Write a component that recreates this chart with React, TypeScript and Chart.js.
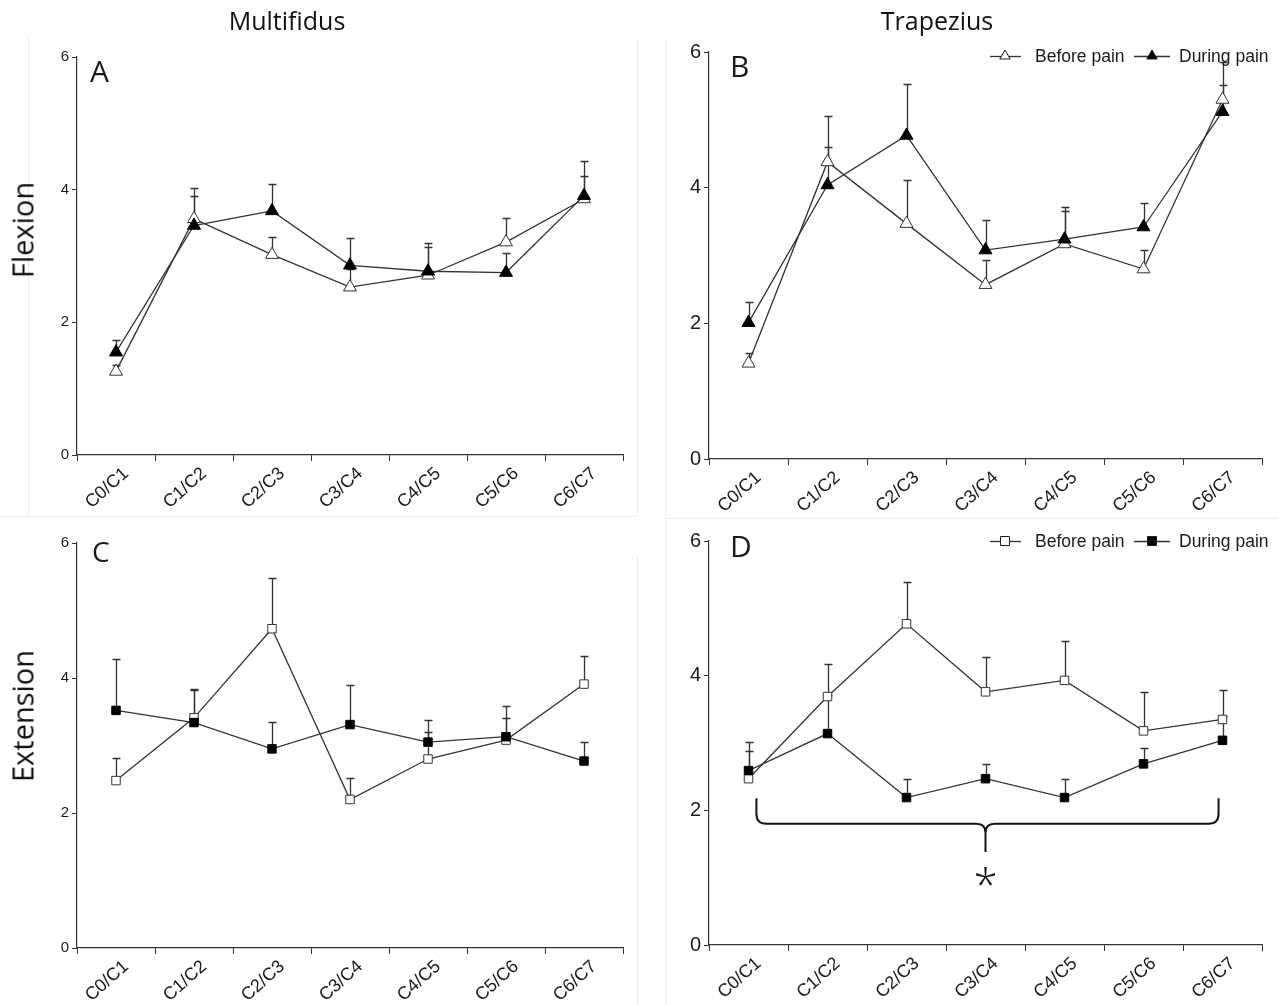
import React, { useEffect, useRef } from 'react';
import { Chart, registerables } from 'chart.js';

Chart.register(...registerables);

// ---------- data ----------
const categories = ['C0/C1', 'C1/C2', 'C2/C3', 'C3/C4', 'C4/C5', 'C5/C6', 'C6/C7'];
const yTickMin = 0;
const yTickMax = 6;
const yTickStep = 2;
const legendLabels = ['Before pain', 'During pain'];
const columnTitles = ['Multifidus', 'Trapezius'];
const rowTitles = ['Flexion', 'Extension'];
const panelLetters = ['A', 'B', 'C', 'D'];

// A: Multifidus, flexion
const multifidusFlexionBefore = [1.26, 3.56, 3.02, 2.53, 2.71, 3.21, 3.86];
const multifidusFlexionBeforeUpper = [1.35, 3.9, 3.28, 2.8, 3.13, 3.58, 4.21];
const multifidusFlexionDuring = [1.55, 3.46, 3.68, 2.86, 2.77, 2.75, 3.91];
const multifidusFlexionDuringUpper = [1.73, 4.02, 4.09, 3.27, 3.2, 3.04, 4.43];

// B: Trapezius, flexion
const trapeziusFlexionBefore = [1.41, 4.38, 3.47, 2.57, 3.17, 2.8, 5.3];
const trapeziusFlexionBeforeUpper = [1.56, 4.6, 4.11, 2.93, 3.66, 3.08, 5.52];
const trapeziusFlexionDuring = [2.01, 4.04, 4.77, 3.08, 3.24, 3.42, 5.12];
const trapeziusFlexionDuringUpper = [2.32, 5.05, 5.53, 3.52, 3.71, 3.77, 5.85];

// C: Multifidus, extension
const multifidusExtensionBefore = [2.48, 3.41, 4.73, 2.2, 2.8, 3.08, 3.91];
const multifidusExtensionBeforeUpper = [2.82, 3.82, 5.48, 2.52, 3.2, 3.41, 4.32];
const multifidusExtensionDuring = [3.52, 3.34, 2.95, 3.31, 3.05, 3.13, 2.77];
const multifidusExtensionDuringUpper = [4.28, 3.84, 3.35, 3.9, 3.38, 3.58, 3.05];

// D: Trapezius, extension
const trapeziusExtensionBefore = [2.47, 3.69, 4.77, 3.76, 3.93, 3.18, 3.35];
const trapeziusExtensionBeforeUpper = [2.88, 4.18, 5.39, 4.27, 4.52, 3.76, 3.79];
const trapeziusExtensionDuring = [2.59, 3.14, 2.19, 2.47, 2.19, 2.69, 3.04];
const trapeziusExtensionDuringUpper = [3.01, 3.72, 2.47, 2.69, 2.47, 2.92, 3.4];

// significance brace in D (category positions and values)
const braceCategoryPositions = [0.1, 3, 5.95]; // start, middle, end
const braceValues = [2.18, 1.8, 1.38]; // end tops, bar, tip
const significanceMark = '*';
const significancePosition = [3, 1.02];

// ---------- layout ----------
const PAGE_W = 1279;
const PAGE_H = 1005;
const Y_W = 40;
const X_H = 70;

interface PanelSpec {
  letter: string;
  letterSize: number;
  letterX: number;
  letterBaseline: number;
  axisLeft: number;
  axisRight: number;
  yTop: number;
  yBottom: number;
  yTickSize: number;
  before: number[];
  beforeUpper: number[];
  during: number[];
  duringUpper: number[];
  marker: 'triangle' | 'rect';
  legendY?: number;
  brace?: boolean;
}

const panels: PanelSpec[] = [
  {
    letter: panelLetters[0], letterSize: 30, letterX: 90, letterBaseline: 82,
    axisLeft: 77, axisRight: 623, yTop: 57, yBottom: 455, yTickSize: 15,
    before: multifidusFlexionBefore, beforeUpper: multifidusFlexionBeforeUpper,
    during: multifidusFlexionDuring, duringUpper: multifidusFlexionDuringUpper,
    marker: 'triangle',
  },
  {
    letter: panelLetters[1], letterSize: 30, letterX: 730, letterBaseline: 77,
    axisLeft: 709, axisRight: 1262, yTop: 52, yBottom: 459, yTickSize: 20,
    before: trapeziusFlexionBefore, beforeUpper: trapeziusFlexionBeforeUpper,
    during: trapeziusFlexionDuring, duringUpper: trapeziusFlexionDuringUpper,
    marker: 'triangle', legendY: 56,
  },
  {
    letter: panelLetters[2], letterSize: 28, letterX: 92, letterBaseline: 562,
    axisLeft: 77, axisRight: 623, yTop: 543, yBottom: 948, yTickSize: 15,
    before: multifidusExtensionBefore, beforeUpper: multifidusExtensionBeforeUpper,
    during: multifidusExtensionDuring, duringUpper: multifidusExtensionDuringUpper,
    marker: 'rect',
  },
  {
    letter: panelLetters[3], letterSize: 30, letterX: 730, letterBaseline: 557,
    axisLeft: 709, axisRight: 1262, yTop: 541, yBottom: 945, yTickSize: 20,
    before: trapeziusExtensionBefore, beforeUpper: trapeziusExtensionBeforeUpper,
    during: trapeziusExtensionDuring, duringUpper: trapeziusExtensionDuringUpper,
    marker: 'rect', legendY: 541, brace: true,
  },
];

const INK = '#1a1a1a';
const LINE = '#333333';

function drawMarker(ctx: CanvasRenderingContext2D, kind: string, x: number, y: number, r: number, fill: string) {
  ctx.beginPath();
  if (kind === 'triangle') {
    const h = r * Math.sqrt(3) / 2;
    ctx.moveTo(x, y - r);
    ctx.lineTo(x + h, y + r / 2);
    ctx.lineTo(x - h, y + r / 2);
    ctx.closePath();
  } else {
    ctx.rect(x - r, y - r, 2 * r, 2 * r);
  }
  ctx.fillStyle = fill;
  ctx.fill();
  ctx.strokeStyle = INK;
  ctx.lineWidth = 1;
  ctx.stroke();
}

const errorBarPlugin = {
  id: 'errorBars',
  beforeDatasetsDraw(chart: any, _args: any, opts: any) {
    const { ctx } = chart;
    const yScale = chart.scales.y;
    const uppers: number[][] = opts.uppers;
    ctx.save();
    ctx.strokeStyle = LINE;
    ctx.lineWidth = 1.3;
    chart.data.datasets.forEach((_ds: any, i: number) => {
      const meta = chart.getDatasetMeta(i);
      meta.data.forEach((pt: any, j: number) => {
        const x = Math.round(pt.x) + 0.5;
        const yTopPx = Math.round(yScale.getPixelForValue(uppers[i][j])) + 0.5;
        ctx.beginPath();
        ctx.moveTo(x, pt.y);
        ctx.lineTo(x, yTopPx);
        ctx.moveTo(x - 4, yTopPx);
        ctx.lineTo(x + 4, yTopPx);
        ctx.stroke();
      });
    });
    ctx.restore();
  },
};

const decorPlugin = {
  id: 'decor',
  afterDraw(chart: any, _args: any, opts: any) {
    const { ctx } = chart;
    const spec: PanelSpec = opts.spec;
    ctx.save();
    // panel letter
    ctx.fillStyle = INK;
    ctx.font = `${spec.letterSize}px "Open Sans"`;
    ctx.textAlign = 'left';
    ctx.textBaseline = 'alphabetic';
    ctx.fillText(spec.letter, spec.letterX, spec.letterBaseline);

    // legend
    if (spec.legendY !== undefined) {
      const y = spec.legendY;
      const items = [
        { x0: 990, x1: 1021, mx: 1005, tx: 1035, label: legendLabels[0], fill: '#ffffff' },
        { x0: 1134, x1: 1170, mx: 1152, tx: 1179, label: legendLabels[1], fill: '#000000' },
      ];
      ctx.font = '17.5px "Liberation Sans"';
      ctx.textBaseline = 'middle';
      items.forEach((it) => {
        ctx.strokeStyle = LINE;
        ctx.lineWidth = 1.3;
        ctx.beginPath();
        ctx.moveTo(it.x0, y + 0.5);
        ctx.lineTo(it.x1, y + 0.5);
        ctx.stroke();
        drawMarker(ctx, spec.marker, it.mx, y, spec.marker === 'triangle' ? 6 : 4.5, it.fill);
        ctx.fillStyle = INK;
        ctx.fillText(it.label, it.tx, y + 1);
      });
    }

    // significance brace
    if (spec.brace) {
      const xs = chart.scales.x;
      const ys = chart.scales.y;
      const x1 = xs.getPixelForValue(braceCategoryPositions[0]);
      const xm = xs.getPixelForValue(braceCategoryPositions[1]);
      const x2 = xs.getPixelForValue(braceCategoryPositions[2]);
      const yEnd = ys.getPixelForValue(braceValues[0]);
      const yBar = ys.getPixelForValue(braceValues[1]);
      const yTip = ys.getPixelForValue(braceValues[2]);
      const r = 10;
      const rm = 9;
      ctx.strokeStyle = '#111';
      ctx.lineWidth = 2;
      ctx.beginPath();
      ctx.moveTo(x1, yEnd);
      ctx.lineTo(x1, yBar - r);
      ctx.quadraticCurveTo(x1, yBar, x1 + r, yBar);
      ctx.lineTo(xm - rm, yBar);
      ctx.quadraticCurveTo(xm, yBar, xm, yBar + rm);
      ctx.lineTo(xm, yTip);
      ctx.moveTo(xm, yBar + rm);
      ctx.quadraticCurveTo(xm, yBar, xm + rm, yBar);
      ctx.lineTo(x2 - r, yBar);
      ctx.quadraticCurveTo(x2, yBar, x2, yBar - r);
      ctx.lineTo(x2, yEnd);
      ctx.stroke();

      const ax = xs.getPixelForValue(significancePosition[0]);
      const ay = ys.getPixelForValue(significancePosition[1]);
      ctx.font = '300 44px "Open Sans"';
      ctx.textAlign = 'center';
      ctx.textBaseline = 'alphabetic';
      const m = ctx.measureText(significanceMark);
      const off = (m.actualBoundingBoxAscent - m.actualBoundingBoxDescent) / 2;
      ctx.fillStyle = '#111';
      ctx.fillText(significanceMark, ax, ay + off);
    }
    ctx.restore();
  },
};

function Panel({ spec }: { spec: PanelSpec }) {
  const ref = useRef<HTMLCanvasElement>(null);
  useEffect(() => {
    const canvas = ref.current;
    if (!canvas) return;
    const pointRadius = spec.marker === 'triangle' ? 7.5 : 6;
    const chart = new Chart(canvas, {
      type: 'line',
      data: {
        labels: categories,
        datasets: [
          {
            label: legendLabels[1],
            data: spec.during,
            order: 0,
            borderColor: LINE,
            borderWidth: 1.3,
            pointStyle: spec.marker,
            pointRadius,
            pointBackgroundColor: '#000',
            pointBorderColor: '#000',
            pointBorderWidth: 1,
            tension: 0,
            fill: false,
          },
          {
            label: legendLabels[0],
            data: spec.before,
            order: 1,
            borderColor: LINE,
            borderWidth: 1.3,
            pointStyle: spec.marker,
            pointRadius,
            pointBackgroundColor: '#fff',
            pointBorderColor: '#333',
            pointBorderWidth: 1,
            tension: 0,
            fill: false,
          },
        ],
      },
      options: {
        responsive: false,
        animation: false,
        events: [],
        layout: {
          padding: {
            left: spec.axisLeft - Y_W,
            right: PAGE_W - spec.axisRight,
            top: spec.yTop,
            bottom: PAGE_H - spec.yBottom - X_H,
          },
        },
        plugins: {
          legend: { display: false },
          tooltip: { enabled: false },
          errorBars: { uppers: [spec.duringUpper, spec.beforeUpper] },
          decor: { spec },
        } as any,
        scales: {
          x: {
            type: 'category',
            offset: true,
            grid: { offset: true, drawOnChartArea: false, drawTicks: true, tickLength: 6, color: LINE, lineWidth: 1 },
            border: { display: true, color: LINE, width: 1.2 },
            ticks: {
              autoSkip: false,
              maxRotation: 42,
              minRotation: 42,
              labelOffset: 10,
              padding: 2,
              color: INK,
              font: { family: '"Liberation Sans"', size: 18 },
            },
            afterFit: (s: any) => { s.height = X_H; },
          },
          y: {
            min: yTickMin,
            max: yTickMax,
            grid: { drawOnChartArea: false, drawTicks: true, tickLength: 5, color: LINE, lineWidth: 1 },
            border: { display: true, color: LINE, width: 1.2 },
            ticks: {
              stepSize: yTickStep,
              padding: 3,
              color: INK,
              font: { family: '"Liberation Sans"', size: spec.yTickSize },
            },
            afterFit: (s: any) => { s.width = Y_W; },
          },
        },
      },
      plugins: [errorBarPlugin, decorPlugin],
    } as any);
    return () => chart.destroy();
  }, [spec]);
  return (
    <canvas
      ref={ref}
      width={PAGE_W}
      height={PAGE_H}
      style={{ position: 'absolute', left: 0, top: 0, width: PAGE_W, height: PAGE_H }}
    />
  );
}

const textBase: React.CSSProperties = {
  position: 'absolute',
  fontFamily: '"Open Sans", sans-serif',
  color: '#111',
  lineHeight: 1,
  whiteSpace: 'nowrap',
};

const faint = '#ececec';

export default function App() {
  return (
    <div
      style={{
        position: 'fixed',
        left: 0,
        top: 0,
        width: PAGE_W,
        height: PAGE_H,
        background: '#ffffff',
        overflow: 'hidden',
      }}
    >
      {/* faint panel frames */}
      <div style={{ position: 'absolute', left: 28, top: 38, width: 1, height: 478, background: faint }} />
      <div style={{ position: 'absolute', left: 0, top: 516, width: 637, height: 1, background: faint }} />
      <div style={{ position: 'absolute', left: 637, top: 40, width: 1, height: 476, background: faint }} />
      <div style={{ position: 'absolute', left: 665, top: 40, width: 1, height: 965, background: faint }} />
      <div style={{ position: 'absolute', left: 666, top: 518, width: 613, height: 1, background: faint }} />
      <div style={{ position: 'absolute', left: 637, top: 557, width: 1, height: 448, background: faint }} />

      {panels.map((p) => (
        <Panel key={p.letter} spec={p} />
      ))}

      <div style={{ ...textBase, fontSize: 25, left: 287, top: 8, transform: 'translateX(-50%)' }}>{columnTitles[0]}</div>
      <div style={{ ...textBase, fontSize: 25, left: 937, top: 8, transform: 'translateX(-50%)' }}>{columnTitles[1]}</div>
      <div style={{ ...textBase, fontSize: 29, left: 22, top: 230, transform: 'translate(-50%, -50%) rotate(-90deg)' }}>{rowTitles[0]}</div>
      <div style={{ ...textBase, fontSize: 29, left: 22, top: 716, transform: 'translate(-50%, -50%) rotate(-90deg)' }}>{rowTitles[1]}</div>
    </div>
  );
}
